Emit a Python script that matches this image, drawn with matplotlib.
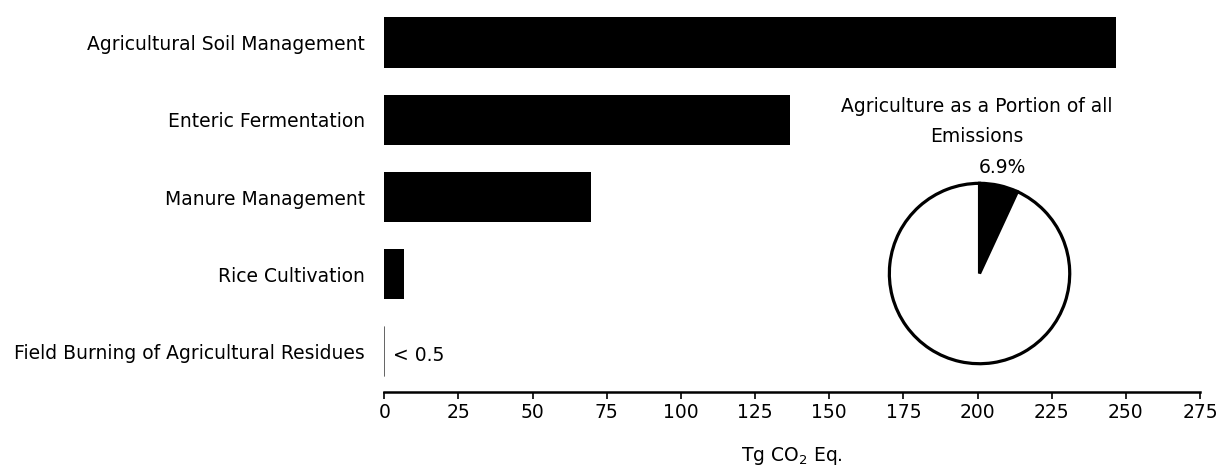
import matplotlib
matplotlib.use("Agg")
from matplotlib import pyplot as plt
import numpy as np

# bar data
categories = ["Agricultural Soil Management", "Enteric Fermentation",
              "Manure Management", "Rice Cultivation",
              "Field Burning of Agricultural Residues"]
values = [246.7, 136.8, 69.8, 6.6, 0.2]
value_notes = ["", "", "", "", "< 0.5"]
x_ticks = list(range(0, 276, 25))

# pie data
pie_share = [6.9, 93.1]
pie_label = "6.9%"
pie_title = ["Agriculture as a Portion of all", "Emissions"]

FS = 13.5
plt.rcParams['font.family'] = ['DejaVu Sans']
plt.rcParams['font.size'] = FS

fig = plt.figure(figsize=(12.2, 4.7), dpi=100)
ax = fig.add_axes([0.315, 0.1666, 0.6686, 0.8334])

y = np.arange(len(categories))
bars = ax.barh(y, values, height=0.65, color="black")
# tiny bar should not be snapped up to a full pixel
bars[-1].set_snap(False)
for i, note in enumerate(value_notes):
    if note:
        ax.annotate(note, (values[i], y[i]), xytext=(6, -3), textcoords="offset points",
                    va="center", ha="left", fontsize=FS)

ax.set_ylim(4.52, -0.55)
ax.set_xlim(0, 275)
ax.set_yticks(y)
ax.set_yticklabels(categories)
ax.set_xticks(x_ticks)
ax.tick_params(axis='y', length=0, pad=14)
ax.tick_params(axis='x', direction='out', length=5, width=1.2, pad=3)
for s in ["top", "right", "left"]:
    ax.spines[s].set_visible(False)
ax.spines["bottom"].set_linewidth(1.8)
ax.set_xlabel("Tg CO$_2$ Eq.", labelpad=17)

# inset pie
pax = fig.add_axes([0.7275, 0.2223, 0.1508, 0.3915])
wedges, texts = pax.pie(pie_share, colors=["black", "white"], startangle=90,
                        counterclock=False, labels=[pie_label, ""], labeldistance=1.2,
                        wedgeprops=dict(edgecolor="black", linewidth=2.3))
for t in texts:
    t.set_ha("center")
    t.set_fontsize(FS)
pax.set_xlim(-1.02, 1.02)
pax.set_ylim(-1.02, 1.02)
pax.set_aspect("auto")

fig.text(977 / 1220, 1 - 107 / 470, pie_title[0], ha="center", va="center", fontsize=FS)
fig.text(977 / 1220, 1 - 136 / 470, pie_title[1], ha="center", va="center", fontsize=FS)

fig.savefig("out.png", dpi=100)
